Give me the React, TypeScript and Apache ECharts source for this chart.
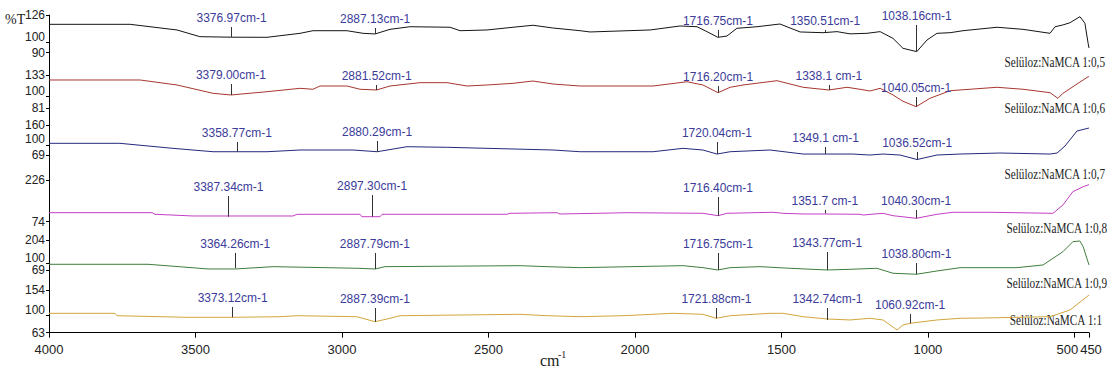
import React, { useEffect, useRef } from "react";
import * as echarts from "echarts";

// ---------- data ----------
const seriesNames = [
  "Selüloz:NaMCA 1:0,5",
  "Selüloz:NaMCA 1:0,6",
  "Selüloz:NaMCA 1:0,7",
  "Selüloz:NaMCA 1:0,8",
  "Selüloz:NaMCA 1:0,9",
  "Selüloz:NaMCA 1:1",
];
const axisMin = [90, 81, 69, 74, 69, 63];
const axisMax = [126, 133, 160, 226, 204, 154];
const yEndLabels = [
  [90, 126],
  [81, 133],
  [69, 160],
  [74, 226],
  [69, 204],
  [63, 154],
];
const yMidLabels = [[100], [100], [100], [], [100], [100]];
const xTickLabels = [4000, 3500, 3000, 2500, 2000, 1500, 1000, 500, 450];
const xMin = 450;
const xMax = 4000;

// [wavenumber cm-1, %T]
const s05: [number, number][] = [
  [4000, 117.1], [3723, 117.1], [3563, 111.7], [3485, 105.3], [3377, 104.8], [3256, 104.7],
  [3143, 108.5], [3099, 111], [2983, 111], [2928, 108.5], [2887, 107.9], [2836, 112.3],
  [2768, 114.8], [2631, 114.3], [2597, 111], [2505, 111.7], [2416, 114.3], [2348, 116.2],
  [2280, 113.6], [2187, 111], [2153, 109.8], [1948, 111.7], [1846, 115.5], [1788, 114.8],
  [1754, 110.1], [1717, 104.7], [1686, 105.9], [1652, 113.3], [1583, 114.8], [1505, 117.4],
  [1436, 109.8], [1358, 109.1], [1310, 110.1], [1266, 108], [1208, 108.5], [1163, 110.1],
  [1119, 103.7], [1085, 94.2], [1038, 91], [1003, 102.1], [969, 108.5], [924, 109.1],
  [880, 111], [764, 114.3], [675, 112.3], [583, 108.5], [566, 114.8], [539, 116.5],
  [515, 118.6], [481, 124.4], [464, 118.1], [453, 99], [450, 94.5],
];
const s06: [number, number][] = [
  [4000, 125.2], [3689, 125.2], [3563, 117.4], [3440, 104.4], [3379, 101.8], [3256, 106.9],
  [3143, 112.2], [3099, 110.7], [3075, 115.8], [2983, 115.8], [2938, 110.7], [2882, 109.6],
  [2836, 115.8], [2734, 121], [2641, 121], [2573, 115.8], [2505, 117.4], [2416, 120],
  [2348, 123.6], [2280, 118.9], [2187, 115.8], [2109, 115.8], [1938, 115.8], [1822, 122.5],
  [1768, 117.4], [1716, 105.4], [1675, 113.8], [1631, 117.4], [1515, 124.1], [1426, 113.8],
  [1338, 109.6], [1276, 113.8], [1232, 110.7], [1198, 108], [1163, 112.2], [1119, 101.8],
  [1085, 92], [1040, 83.5], [993, 96.6], [924, 108.5], [764, 113.8], [675, 110.7],
  [583, 105.4], [556, 96.6], [539, 104.4], [470, 125.2], [453, 130.3], [450, 130.3],
];
const s07: [number, number][] = [
  [4000, 104.5], [3758, 104.5], [3577, 89.3], [3440, 79], [3256, 79], [3143, 84.2],
  [2962, 84.2], [2880, 79], [2778, 94.2], [2641, 92.4], [2280, 84.2], [2187, 79],
  [2075, 79], [1938, 79], [1836, 89.3], [1768, 84.2], [1720, 72], [1675, 79],
  [1539, 84.2], [1426, 72], [1256, 72], [1198, 69], [1153, 72], [1095, 69],
  [1037, 55.4], [969, 69], [890, 72], [754, 75.1], [583, 72], [559, 75.1],
  [532, 96.3], [491, 141.8], [450, 150.9],
];
const s08: [number, number][] = [
  [4000, 106.8], [3648, 106.8], [3638, 101], [3508, 94.8], [3167, 94.8], [3153, 101],
  [2938, 101], [2932, 92.2], [2870, 92.2], [2863, 101], [2437, 101], [2426, 104.6],
  [2266, 106.8], [2256, 102.1], [2129, 104.6], [2027, 106.8], [1768, 104.6], [1716, 95.9],
  [1686, 104.6], [1529, 108.3], [1494, 104.6], [1426, 102.1], [1351, 102.1], [1232, 101],
  [1221, 98.4], [1153, 104.6], [1119, 95.9], [1040, 86.4], [969, 101], [914, 108.3],
  [788, 108.3], [573, 104.6], [539, 134.9], [505, 183.4], [470, 201.6], [453, 207.8], [450, 210],
];
const s09: [number, number][] = [
  [4000, 94.6], [3662, 94.6], [3543, 82.5], [3457, 73.5], [3364, 73.5], [3235, 83.9],
  [2945, 76.6], [2887, 73.5], [2853, 83.9], [2392, 88.4], [2300, 83.9], [2187, 79.4],
  [1836, 88.4], [1768, 79.4], [1717, 69], [1675, 79.4], [1573, 83.9], [1471, 76.6],
  [1344, 69], [1266, 72], [1174, 76.6], [1119, 54.2], [1039, 49.7], [969, 64.5],
  [890, 79.4], [696, 79.4], [607, 91.5], [539, 151.4], [505, 196.4], [481, 199.5],
  [470, 173.9], [450, 91.5],
];
const s1: [number, number][] = [
  [4000, 104.3], [3775, 104.3], [3768, 99.2], [3529, 95.8], [3373, 95.8], [3211, 97.1],
  [3153, 99.2], [2949, 97.1], [2887, 86.4], [2836, 93.7], [2802, 99.2], [2392, 102.2],
  [2300, 99.2], [2187, 97.1], [2041, 99.2], [1870, 104.3], [1768, 102.2], [1722, 93.7],
  [1675, 99.2], [1539, 104.3], [1494, 104.3], [1426, 97.1], [1343, 92.2], [1266, 90.1],
  [1198, 93.7], [1153, 90.1], [1105, 68.8], [1085, 79.4], [1061, 83], [969, 90.1],
  [890, 93.7], [812, 94.3], [583, 97.1], [515, 111.4], [450, 143.3],
];

// peaks: [wavenumber, label, %T at curve, %T at tick top]
const p05: [number, string, number, number][] = [
  [3376.97, "3376.97cm-1", 104.8, 114.5],
  [2887.13, "2887.13cm-1", 107.9, 113.6],
  [1716.75, "1716.75cm-1", 105, 111.7],
  [1350.51, "1350.51cm-1", 109.8, 111.7],
  [1038.16, "1038.16cm-1", 91, 116.5],
];
const p06: [number, string, number, number][] = [
  [3379.0, "3379.00cm-1", 101.8, 118.9],
  [2881.52, "2881.52cm-1", 109.6, 117.4],
  [1716.2, "1716.20cm-1", 105.4, 115.8],
  [1338.1, "1338.1 cm-1", 109.6, 117.4],
  [1040.05, "1040.05cm-1", 83.5, 98.6],
];
const p07: [number, string, number, number][] = [
  [3358.77, "3358.77cm-1", 79, 108.4],
  [2880.29, "2880.29cm-1", 79, 111.5],
  [1720.04, "1720.04cm-1", 72, 108.4],
  [1349.1, "1349.1 cm-1", 72, 93.3],
  [1036.52, "1036.52cm-1", 55.4, 78.1],
];
const p08: [number, string, number, number][] = [
  [3387.34, "3387.34cm-1", 92.2, 167.7],
  [2897.3, "2897.30cm-1", 92.2, 171.3],
  [1716.4, "1716.40cm-1", 95.9, 164],
  [1351.7, "1351.7 cm-1", 103.9, 116.7],
  [1040.3, "1040.30cm-1", 86.4, 116.7],
];
const p09: [number, string, number, number][] = [
  [3364.26, "3364.26cm-1", 76.6, 145.5],
  [2887.79, "2887.79cm-1", 73.5, 145.5],
  [1716.75, "1716.75cm-1", 69, 145.5],
  [1343.77, "1343.77cm-1", 69, 150],
  [1038.8, "1038.80cm-1", 49.7, 100.5],
];
const p1: [number, string, number, number][] = [
  [3373.12, "3373.12cm-1", 95.8, 117.8],
  [2887.39, "2887.39cm-1", 86.4, 115.6],
  [1721.88, "1721.88cm-1", 93.7, 115.6],
  [1342.74, "1342.74cm-1", 90.1, 115.6],
  [1060.92, "1060.92cm-1", 83, 102.9],
];

const spectra = [s05, s06, s07, s08, s09, s1];
const peaks = [p05, p06, p07, p08, p09, p1];

// ---------- styling / layout ----------
const colors = ["#141414", "#a8362f", "#232a7c", "#c43ec4", "#3e7e3e", "#d2a63c"];
const peakColor = "#3b3b9a";
const narrow = "'Liberation Sans Narrow', 'Arial Narrow', 'Liberation Sans', sans-serif";
const serif = "'Liberation Serif', 'Times New Roman', serif";
const panels = [
  { top: 15, height: 37.7, floor: 90 },
  { top: 75, height: 33.3, floor: 81 },
  { top: 125, height: 36.3, floor: 50 },
  { top: 180, height: 41.7, floor: 74 },
  { top: 240, height: 35.3, floor: 45 },
  { top: 290, height: 42.7, floor: 63 },
];
const nameSpots = [
  [1105, 62], [1105, 108], [1105, 174], [1107, 228], [1107, 283], [1102, 320],
];

export default function App() {
  const ref = useRef<HTMLDivElement>(null);
  useEffect(() => {
    const chart = echarts.init(ref.current!, null, { renderer: "svg" });
    const grid = panels.map((p) => ({ left: 49, width: 1040, top: p.top, height: p.height }));
    const xAxis = panels.map((_, i) => {
      const last = i === panels.length - 1;
      return {
        type: "value",
        gridIndex: i,
        min: xMin,
        max: xMax,
        inverse: true,
        show: last,
        splitLine: { show: false },
        axisLine: { show: last, onZero: false, lineStyle: { color: "#000", width: 1 } },
        axisTick: { show: last, length: 5, lineStyle: { color: "#000" }, customValues: xTickLabels },
        axisLabel: {
          show: last,
          customValues: xTickLabels,
          showMinLabel: true,
          showMaxLabel: true,
          hideOverlap: false,
          margin: 10,
          color: "#222",
          fontSize: 13,
          fontFamily: narrow,
          formatter: (v: number) =>
            v === 500 ? "{l|500}" : v === 450 ? "{r|450}" : String(v),
          rich: {
            l: { fontSize: 13, fontFamily: narrow, color: "#222", padding: [0, 14, 0, 0] },
            r: { fontSize: 13, fontFamily: narrow, color: "#222", padding: [0, 0, 0, 4] },
          },
        },
      };
    });
    const labelStyle = {
      show: true,
      showMinLabel: true,
      showMaxLabel: true,
      hideOverlap: false,
      margin: 4,
      color: "#222",
      fontSize: 12,
      lineHeight: 11,
      fontFamily: narrow,
    };
    const yEnd = panels.map((p, i) => ({
      type: "value",
      gridIndex: i,
      min: p.floor,
      max: axisMax[i],
      splitLine: { show: false },
      axisLine: { show: true, lineStyle: { color: "#000", width: 1 } },
      axisTick: { show: true, length: 3, lineStyle: { color: "#000" }, customValues: yEndLabels[i] },
      axisLabel: { ...labelStyle, customValues: yEndLabels[i] },
    }));
    const yMid = panels.map((p, i) => ({
      type: "value",
      gridIndex: i,
      position: "left",
      offset: 0,
      min: p.floor,
      max: axisMax[i],
      splitLine: { show: false },
      axisLine: { show: false },
      axisTick: { show: yMidLabels[i].length > 0, length: 3, lineStyle: { color: "#000" }, customValues: yMidLabels[i] },
      axisLabel: {
        ...labelStyle,
        show: yMidLabels[i].length > 0,
        customValues: yMidLabels[i],
        verticalAlign: "bottom",
      },
    }));
    const series = spectra.map((d, i) => ({
      type: "line",
      name: seriesNames[i],
      xAxisIndex: i,
      yAxisIndex: i,
      data: d,
      symbol: "none",
      showSymbol: false,
      clip: false,
      silent: true,
      lineStyle: { color: colors[i], width: 1 },
      itemStyle: { color: colors[i] },
      markLine: {
        silent: true,
        animation: false,
        symbol: ["none", "none"],
        lineStyle: { color: "#333", width: 1, type: "solid" },
        emphasis: { disabled: true },
        label: {
          show: true,
          position: "end",
          formatter: "{b}",
          distance: 3,
          color: peakColor,
          fontSize: 12,
          fontFamily: narrow,
        },
        data: peaks[i].map((pk) => [
          { name: pk[1], coord: [pk[0], pk[2]] },
          { coord: [pk[0], pk[3]] },
        ]),
      },
    }));
    const graphic: any[] = [
      {
        type: "line",
        silent: true,
        shape: { x1: 49.5, y1: 15, x2: 49.5, y2: 333 },
        style: { stroke: "#000", lineWidth: 1 },
      },
      {
        type: "text",
        x: 5,
        y: 19,
        style: { text: "%T", font: `14px ${serif}`, fill: "#222", verticalAlign: "middle" },
      },
      {
        type: "text",
        x: 540,
        y: 360,
        style: { text: "cm", font: `16px ${serif}`, fill: "#222", verticalAlign: "middle" },
      },
      {
        type: "text",
        x: 558,
        y: 354,
        style: { text: "-1", font: `10px ${serif}`, fill: "#222", verticalAlign: "middle" },
      },
      ...seriesNames.map((n, i) => ({
        type: "text",
        x: nameSpots[i][0],
        y: nameSpots[i][1],
        scaleX: 0.75,
        style: { text: n, font: `15px ${serif}`, fill: "#222", align: "right", verticalAlign: "middle" },
      })),
    ];
    chart.setOption({
      animation: false,
      backgroundColor: "#fff",
      grid,
      xAxis,
      yAxis: [...yEnd, ...yMid],
      series,
      graphic,
    });
    return () => chart.dispose();
  }, []);
  return (
    <div
      ref={ref}
      style={{ position: "fixed", left: 0, top: 0, width: 1118, height: 374, background: "#fff" }}
    />
  );
}
